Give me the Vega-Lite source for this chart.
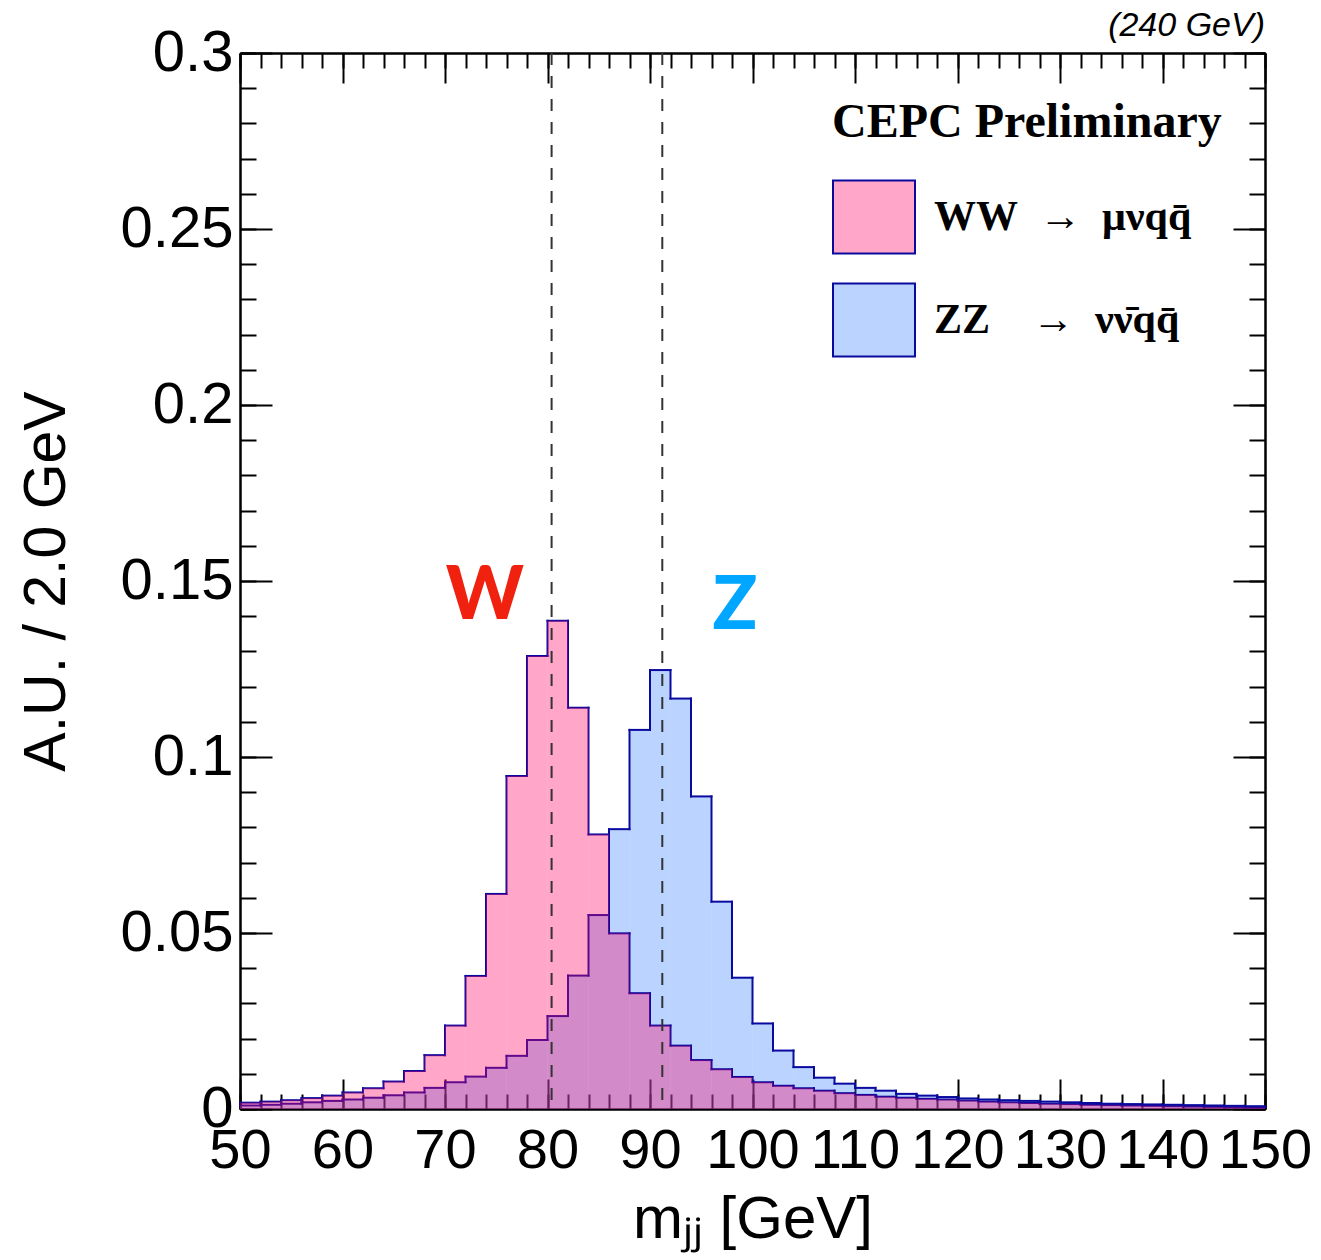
{
  "$schema": "https://vega.github.io/schema/vega-lite/v6.json",
  "width": 1025,
  "height": 1056,
  "autosize": {"type": "none"},
  "padding": {"left": 240, "top": 53, "right": 56, "bottom": 151},
  "background": "white",
  "title": {"text": "(240 GeV)", "anchor": "end", "frame": "group", "font": "Liberation Sans", "fontSize": 34, "fontStyle": "italic", "fontWeight": "normal", "color": "black", "offset": -19},
  "config": {
    "view": {"stroke": null},
    "axis": {"domainColor": "#000", "domainWidth": 2, "tickColor": "#000", "tickWidth": 2, "grid": false, "labelColor": "#000", "titleColor": "#000", "labelFont": "Liberation Sans", "titleFont": "Liberation Sans", "titleFontWeight": "normal", "labelOverlap": false, "labelFlush": false, "labelBound": false}
  },
  "datasets": {
    "hist": [
      {"sample": "ZZ", "lo": 50, "hi": 52, "v": 0.0010},
      {"sample": "ZZ", "lo": 52, "hi": 54, "v": 0.0012},
      {"sample": "ZZ", "lo": 54, "hi": 56, "v": 0.0015},
      {"sample": "ZZ", "lo": 56, "hi": 58, "v": 0.0019},
      {"sample": "ZZ", "lo": 58, "hi": 60, "v": 0.0023},
      {"sample": "ZZ", "lo": 60, "hi": 62, "v": 0.0027},
      {"sample": "ZZ", "lo": 62, "hi": 64, "v": 0.0032},
      {"sample": "ZZ", "lo": 64, "hi": 66, "v": 0.0039},
      {"sample": "ZZ", "lo": 66, "hi": 68, "v": 0.0047},
      {"sample": "ZZ", "lo": 68, "hi": 70, "v": 0.0060},
      {"sample": "ZZ", "lo": 70, "hi": 72, "v": 0.0076},
      {"sample": "ZZ", "lo": 72, "hi": 74, "v": 0.0092},
      {"sample": "ZZ", "lo": 74, "hi": 76, "v": 0.0117},
      {"sample": "ZZ", "lo": 76, "hi": 78, "v": 0.0151},
      {"sample": "ZZ", "lo": 78, "hi": 80, "v": 0.0196},
      {"sample": "ZZ", "lo": 80, "hi": 82, "v": 0.0264},
      {"sample": "ZZ", "lo": 82, "hi": 84, "v": 0.0379},
      {"sample": "ZZ", "lo": 84, "hi": 86, "v": 0.0551},
      {"sample": "ZZ", "lo": 86, "hi": 88, "v": 0.0795},
      {"sample": "ZZ", "lo": 88, "hi": 90, "v": 0.1077},
      {"sample": "ZZ", "lo": 90, "hi": 92, "v": 0.1247},
      {"sample": "ZZ", "lo": 92, "hi": 94, "v": 0.1166},
      {"sample": "ZZ", "lo": 94, "hi": 96, "v": 0.0888},
      {"sample": "ZZ", "lo": 96, "hi": 98, "v": 0.0589},
      {"sample": "ZZ", "lo": 98, "hi": 100, "v": 0.0373},
      {"sample": "ZZ", "lo": 100, "hi": 102, "v": 0.0243},
      {"sample": "ZZ", "lo": 102, "hi": 104, "v": 0.0166},
      {"sample": "ZZ", "lo": 104, "hi": 106, "v": 0.0119},
      {"sample": "ZZ", "lo": 106, "hi": 108, "v": 0.0089},
      {"sample": "ZZ", "lo": 108, "hi": 110, "v": 0.0072},
      {"sample": "ZZ", "lo": 110, "hi": 112, "v": 0.0060},
      {"sample": "ZZ", "lo": 112, "hi": 114, "v": 0.0052},
      {"sample": "ZZ", "lo": 114, "hi": 116, "v": 0.0043},
      {"sample": "ZZ", "lo": 116, "hi": 118, "v": 0.0038},
      {"sample": "ZZ", "lo": 118, "hi": 120, "v": 0.0034},
      {"sample": "ZZ", "lo": 120, "hi": 122, "v": 0.0030},
      {"sample": "ZZ", "lo": 122, "hi": 124, "v": 0.0027},
      {"sample": "ZZ", "lo": 124, "hi": 126, "v": 0.0025},
      {"sample": "ZZ", "lo": 126, "hi": 128, "v": 0.0023},
      {"sample": "ZZ", "lo": 128, "hi": 130, "v": 0.0021},
      {"sample": "ZZ", "lo": 130, "hi": 132, "v": 0.0019},
      {"sample": "ZZ", "lo": 132, "hi": 134, "v": 0.0017},
      {"sample": "ZZ", "lo": 134, "hi": 136, "v": 0.0015},
      {"sample": "ZZ", "lo": 136, "hi": 138, "v": 0.0014},
      {"sample": "ZZ", "lo": 138, "hi": 140, "v": 0.0013},
      {"sample": "ZZ", "lo": 140, "hi": 142, "v": 0.0012},
      {"sample": "ZZ", "lo": 142, "hi": 144, "v": 0.0011},
      {"sample": "ZZ", "lo": 144, "hi": 146, "v": 0.0010},
      {"sample": "ZZ", "lo": 146, "hi": 148, "v": 0.0009},
      {"sample": "ZZ", "lo": 148, "hi": 150, "v": 0.0008},
      {"sample": "WW", "lo": 50, "hi": 52, "v": 0.0018},
      {"sample": "WW", "lo": 52, "hi": 54, "v": 0.0021},
      {"sample": "WW", "lo": 54, "hi": 56, "v": 0.0025},
      {"sample": "WW", "lo": 56, "hi": 58, "v": 0.0031},
      {"sample": "WW", "lo": 58, "hi": 60, "v": 0.0038},
      {"sample": "WW", "lo": 60, "hi": 62, "v": 0.0047},
      {"sample": "WW", "lo": 62, "hi": 64, "v": 0.0059},
      {"sample": "WW", "lo": 64, "hi": 66, "v": 0.0078},
      {"sample": "WW", "lo": 66, "hi": 68, "v": 0.0108},
      {"sample": "WW", "lo": 68, "hi": 70, "v": 0.0153},
      {"sample": "WW", "lo": 70, "hi": 72, "v": 0.0237},
      {"sample": "WW", "lo": 72, "hi": 74, "v": 0.0378},
      {"sample": "WW", "lo": 74, "hi": 76, "v": 0.0611},
      {"sample": "WW", "lo": 76, "hi": 78, "v": 0.0946},
      {"sample": "WW", "lo": 78, "hi": 80, "v": 0.1287},
      {"sample": "WW", "lo": 80, "hi": 82, "v": 0.1387},
      {"sample": "WW", "lo": 82, "hi": 84, "v": 0.1140},
      {"sample": "WW", "lo": 84, "hi": 86, "v": 0.0780},
      {"sample": "WW", "lo": 86, "hi": 88, "v": 0.0499},
      {"sample": "WW", "lo": 88, "hi": 90, "v": 0.0329},
      {"sample": "WW", "lo": 90, "hi": 92, "v": 0.0237},
      {"sample": "WW", "lo": 92, "hi": 94, "v": 0.0180},
      {"sample": "WW", "lo": 94, "hi": 96, "v": 0.0139},
      {"sample": "WW", "lo": 96, "hi": 98, "v": 0.0113},
      {"sample": "WW", "lo": 98, "hi": 100, "v": 0.0091},
      {"sample": "WW", "lo": 100, "hi": 102, "v": 0.0076},
      {"sample": "WW", "lo": 102, "hi": 104, "v": 0.0066},
      {"sample": "WW", "lo": 104, "hi": 106, "v": 0.0059},
      {"sample": "WW", "lo": 106, "hi": 108, "v": 0.0052},
      {"sample": "WW", "lo": 108, "hi": 110, "v": 0.0045},
      {"sample": "WW", "lo": 110, "hi": 112, "v": 0.0040},
      {"sample": "WW", "lo": 112, "hi": 114, "v": 0.0035},
      {"sample": "WW", "lo": 114, "hi": 116, "v": 0.0032},
      {"sample": "WW", "lo": 116, "hi": 118, "v": 0.0029},
      {"sample": "WW", "lo": 118, "hi": 120, "v": 0.0027},
      {"sample": "WW", "lo": 120, "hi": 122, "v": 0.0024},
      {"sample": "WW", "lo": 122, "hi": 124, "v": 0.0021},
      {"sample": "WW", "lo": 124, "hi": 126, "v": 0.0019},
      {"sample": "WW", "lo": 126, "hi": 128, "v": 0.0017},
      {"sample": "WW", "lo": 128, "hi": 130, "v": 0.0015},
      {"sample": "WW", "lo": 130, "hi": 132, "v": 0.0014},
      {"sample": "WW", "lo": 132, "hi": 134, "v": 0.0012},
      {"sample": "WW", "lo": 134, "hi": 136, "v": 0.0011},
      {"sample": "WW", "lo": 136, "hi": 138, "v": 0.0010},
      {"sample": "WW", "lo": 138, "hi": 140, "v": 0.0009},
      {"sample": "WW", "lo": 140, "hi": 142, "v": 0.0008},
      {"sample": "WW", "lo": 142, "hi": 144, "v": 0.0007},
      {"sample": "WW", "lo": 144, "hi": 146, "v": 0.0006},
      {"sample": "WW", "lo": 146, "hi": 148, "v": 0.0005},
      {"sample": "WW", "lo": 148, "hi": 150, "v": 0.0004}
    ],
    "masses": [
      {"boson": "W", "mass": 80.4},
      {"boson": "Z", "mass": 91.2}
    ]
  },
  "resolve": {"axis": {"x": "independent", "y": "independent"}},
  "layer": [
    {
      "data": {"name": "hist"},
      "mark": {"type": "rect", "fillOpacity": 0, "strokeWidth": 0},
      "encoding": {
        "x": {"field": "lo", "type": "quantitative", "scale": {"domain": [50, 150], "nice": false, "zero": false}, "axis": null},
        "x2": {"field": "hi"},
        "y": {"field": "v", "type": "quantitative", "scale": {"domain": [0, 0.3], "nice": false}, "axis": null},
        "y2": {"datum": 0},
        "fill": {"field": "sample", "type": "nominal", "scale": {"domain": ["WW", "ZZ"], "range": ["#FFA6C9", "#BAD4FF"]},
                  "legend": {"title": null, "orient": "none", "legendX": 592, "legendY": 122, "padding": 0, "symbolType": "M-1,-0.89H1V0.89H-1Z", "symbolSize": 6724, "symbolStrokeColor": "#0A0A9E", "symbolStrokeWidth": 2, "symbolOpacity": 1, "labelFont": "Liberation Serif", "labelFontWeight": "bold", "labelFontSize": 42, "labelColor": "black", "labelOffset": 18, "labelLimit": 600, "rowPadding": 20,
                             "labelExpr": "datum.label == 'WW' ? 'WW\u2002→\u2002μνqq̄' : 'ZZ\u2003→\u2002νν̄qq̄'"}}
      }
    },
    {
      "data": {"name": "hist"},
      "transform": [{"filter": "datum.sample == 'ZZ'"}],
      "mark": {"type": "rect", "fillOpacity": 0.36, "strokeWidth": 0},
      "encoding": {
        "x": {"field": "lo", "type": "quantitative", "scale": {"domain": [50, 150], "nice": false, "zero": false},
              "axis": {"orient": "bottom", "values": [50, 60, 70, 80, 90, 100, 110, 120, 130, 140, 150], "format": "d", "tickSize": -30, "labelPadding": 44, "labelFontSize": 56, "title": "mⱼⱼ [GeV]", "titleFontSize": 60, "titlePadding": 12}},
        "x2": {"field": "hi"},
        "y": {"field": "v", "type": "quantitative", "scale": {"domain": [0, 0.3], "nice": false},
              "axis": {"orient": "left", "values": [0, 0.05, 0.1, 0.15, 0.2, 0.25, 0.3], "format": "~g", "tickSize": -32, "labelPadding": 39, "labelFontSize": 58, "title": "A.U. / 2.0 GeV", "titleFontSize": 59, "titlePadding": 44}},
        "y2": {"datum": 0},
        "color": {"field": "sample", "type": "nominal", "scale": {"domain": ["WW", "ZZ"], "range": ["#FF0869", "#3F87FF"]}, "legend": null}
      }
    },
    {
      "data": {"name": "hist"},
      "transform": [{"filter": "datum.sample == 'ZZ'"}],
      "mark": {"type": "rule", "stroke": "#0A0A9E", "strokeWidth": 2, "strokeCap": "square"},
      "encoding": {
        "x": {"field": "lo", "type": "quantitative", "scale": {"domain": [50, 150], "nice": false, "zero": false},
              "axis": {"orient": "bottom", "values": [50, 52, 54, 56, 58, 60, 62, 64, 66, 68, 70, 72, 74, 76, 78, 80, 82, 84, 86, 88, 90, 92, 94, 96, 98, 100, 102, 104, 106, 108, 110, 112, 114, 116, 118, 120, 122, 124, 126, 128, 130, 132, 134, 136, 138, 140, 142, 144, 146, 148, 150], "tickSize": -15, "labels": false, "title": null}},
        "x2": {"field": "hi"},
        "y": {"field": "v", "type": "quantitative", "scale": {"domain": [0, 0.3], "nice": false},
              "axis": {"orient": "left", "values": [0, 0.01, 0.02, 0.03, 0.04, 0.05, 0.06, 0.07, 0.08, 0.09, 0.1, 0.11, 0.12, 0.13, 0.14, 0.15, 0.16, 0.17, 0.18, 0.19, 0.2, 0.21, 0.22, 0.23, 0.24, 0.25, 0.26, 0.27, 0.28, 0.29, 0.3], "tickSize": -16, "labels": false, "title": null}}
      }
    },
    {
      "data": {"name": "hist"},
      "transform": [
        {"filter": "datum.sample == 'ZZ'"},
        {"window": [{"op": "lead", "field": "v", "as": "next"}], "sort": [{"field": "lo"}]},
        {"filter": {"field": "next", "valid": true}}
      ],
      "mark": {"type": "rule", "stroke": "#0A0A9E", "strokeWidth": 2, "strokeCap": "square"},
      "encoding": {
        "x": {"field": "hi", "type": "quantitative", "scale": {"domain": [50, 150], "nice": false, "zero": false},
              "axis": {"orient": "top", "values": [50, 60, 70, 80, 90, 100, 110, 120, 130, 140, 150], "tickSize": -30, "labels": false, "title": null}},
        "y": {"field": "v", "type": "quantitative", "scale": {"domain": [0, 0.3], "nice": false},
              "axis": {"orient": "right", "values": [0, 0.05, 0.1, 0.15, 0.2, 0.25, 0.3], "tickSize": -32, "labels": false, "title": null}},
        "y2": {"field": "next"}
      }
    },
    {
      "data": {"name": "hist"},
      "transform": [{"filter": "datum.sample == 'WW'"}],
      "mark": {"type": "rule", "stroke": "#0A0A9E", "strokeWidth": 2, "strokeCap": "square"},
      "encoding": {
        "x": {"field": "lo", "type": "quantitative", "scale": {"domain": [50, 150], "nice": false, "zero": false},
              "axis": {"orient": "top", "values": [50, 52, 54, 56, 58, 60, 62, 64, 66, 68, 70, 72, 74, 76, 78, 80, 82, 84, 86, 88, 90, 92, 94, 96, 98, 100, 102, 104, 106, 108, 110, 112, 114, 116, 118, 120, 122, 124, 126, 128, 130, 132, 134, 136, 138, 140, 142, 144, 146, 148, 150], "tickSize": -15, "labels": false, "title": null}},
        "x2": {"field": "hi"},
        "y": {"field": "v", "type": "quantitative", "scale": {"domain": [0, 0.3], "nice": false},
              "axis": {"orient": "right", "values": [0, 0.01, 0.02, 0.03, 0.04, 0.05, 0.06, 0.07, 0.08, 0.09, 0.1, 0.11, 0.12, 0.13, 0.14, 0.15, 0.16, 0.17, 0.18, 0.19, 0.2, 0.21, 0.22, 0.23, 0.24, 0.25, 0.26, 0.27, 0.28, 0.29, 0.3], "tickSize": -16, "labels": false, "title": null}}
      }
    },
    {
      "data": {"name": "hist"},
      "transform": [
        {"filter": "datum.sample == 'WW'"},
        {"window": [{"op": "lead", "field": "v", "as": "next"}], "sort": [{"field": "lo"}]},
        {"filter": {"field": "next", "valid": true}}
      ],
      "mark": {"type": "rule", "stroke": "#0A0A9E", "strokeWidth": 2, "strokeCap": "square"},
      "encoding": {
        "x": {"field": "hi", "type": "quantitative", "scale": {"domain": [50, 150], "nice": false, "zero": false}, "axis": null},
        "y": {"field": "v", "type": "quantitative", "scale": {"domain": [0, 0.3], "nice": false}, "axis": null},
        "y2": {"field": "next"}
      }
    },
    {
      "data": {"name": "hist"},
      "transform": [{"filter": "datum.sample == 'WW'"}],
      "mark": {"type": "rect", "fillOpacity": 0.36, "strokeWidth": 0},
      "encoding": {
        "x": {"field": "lo", "type": "quantitative", "scale": {"domain": [50, 150], "nice": false, "zero": false}, "axis": null},
        "x2": {"field": "hi"},
        "y": {"field": "v", "type": "quantitative", "scale": {"domain": [0, 0.3], "nice": false}, "axis": null},
        "y2": {"datum": 0},
        "color": {"field": "sample", "type": "nominal", "scale": {"domain": ["WW", "ZZ"], "range": ["#FF0869", "#3F87FF"]}, "legend": null}
      }
    },
    {
      "data": {"name": "masses"},
      "mark": {"type": "rule", "stroke": "#333333", "strokeWidth": 2, "strokeDash": [12, 11]},
      "encoding": {
        "x": {"field": "mass", "type": "quantitative", "scale": {"domain": [50, 150], "nice": false, "zero": false}, "axis": null}
      }
    },
    {
      "data": {"values": [{}]},
      "mark": {"type": "text", "font": "Liberation Serif", "fontWeight": "bold", "fontSize": 48, "align": "left", "baseline": "alphabetic", "color": "black"},
      "encoding": {
        "x": {"datum": 107.76, "type": "quantitative", "scale": {"domain": [50, 150], "nice": false, "zero": false}, "axis": null},
        "y": {"datum": 0.2761, "type": "quantitative", "scale": {"domain": [0, 0.3], "nice": false}, "axis": null},
        "text": {"value": "CEPC Preliminary"}
      }
    },
    {
      "data": {"values": [{}]},
      "mark": {"type": "text", "font": "Lato", "fontWeight": 900, "fontSize": 74, "align": "center", "baseline": "alphabetic", "color": "#F0220F"},
      "encoding": {
        "x": {"datum": 73.9, "type": "quantitative", "scale": {"domain": [50, 150], "nice": false, "zero": false}, "axis": null},
        "y": {"datum": 0.1392, "type": "quantitative", "scale": {"domain": [0, 0.3], "nice": false}, "axis": null},
        "text": {"value": "W"}
      }
    },
    {
      "data": {"values": [{}]},
      "mark": {"type": "text", "font": "Lato", "fontWeight": 900, "fontSize": 74, "align": "center", "baseline": "alphabetic", "color": "#00A6FF"},
      "encoding": {
        "x": {"datum": 98.3, "type": "quantitative", "scale": {"domain": [50, 150], "nice": false, "zero": false}, "axis": null},
        "y": {"datum": 0.1364, "type": "quantitative", "scale": {"domain": [0, 0.3], "nice": false}, "axis": null},
        "text": {"value": "Z"}
      }
    }
  ]
}
